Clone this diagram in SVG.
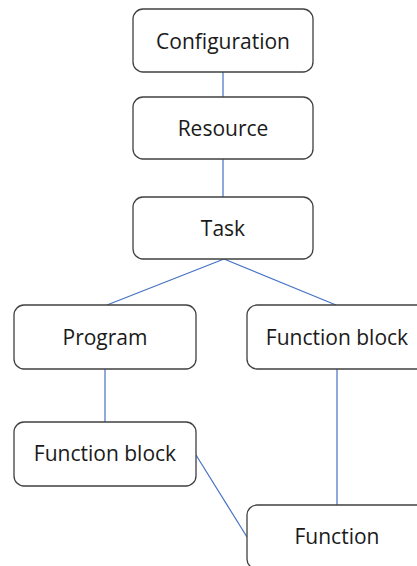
<svg xmlns="http://www.w3.org/2000/svg" width="417" height="566" viewBox="0 0 417 566">
<style>
.box{fill:#fff;stroke:#404040;stroke-width:1.3}
.lbl{font-family:"Open Sans","Liberation Sans",sans-serif;font-size:21px;fill:#1a1a1a;text-anchor:middle;dominant-baseline:central}
.conn line{stroke:#4472C4;stroke-width:1.2}
</style>
<rect width="417" height="566" fill="#fff"/>
<g class="conn" id="connectors">
<line x1="223" y1="72" x2="223" y2="97"/>
<line x1="223" y1="159" x2="223" y2="197"/>
<line x1="224" y1="259" x2="107" y2="305"/>
<line x1="224" y1="259" x2="336" y2="305"/>
<line x1="105" y1="369" x2="105" y2="422"/>
<line x1="337" y1="369" x2="337" y2="505"/>
<line x1="196" y1="455" x2="247" y2="537"/>
</g>
<g id="configuration"><rect class="box" x="133" y="9" width="180" height="63" rx="10"/><text class="lbl" x="223" y="41">Configuration</text></g>
<g id="resource"><rect class="box" x="133" y="97" width="180" height="62" rx="10"/><text class="lbl" x="223" y="128">Resource</text></g>
<g id="task"><rect class="box" x="133" y="197" width="180" height="62" rx="10"/><text class="lbl" x="223" y="228">Task</text></g>
<g id="program"><rect class="box" x="14" y="305" width="182" height="64" rx="10"/><text class="lbl" x="105" y="337">Program</text></g>
<g id="function-block-right"><rect class="box" x="247" y="305" width="182" height="64" rx="10"/><text class="lbl" x="337" y="337">Function block</text></g>
<g id="function-block-left"><rect class="box" x="14" y="422" width="182" height="64" rx="10"/><text class="lbl" x="105" y="453">Function block</text></g>
<g id="function"><rect class="box" x="247" y="505" width="182" height="64" rx="10"/><text class="lbl" x="337" y="536">Function</text></g>
</svg>
